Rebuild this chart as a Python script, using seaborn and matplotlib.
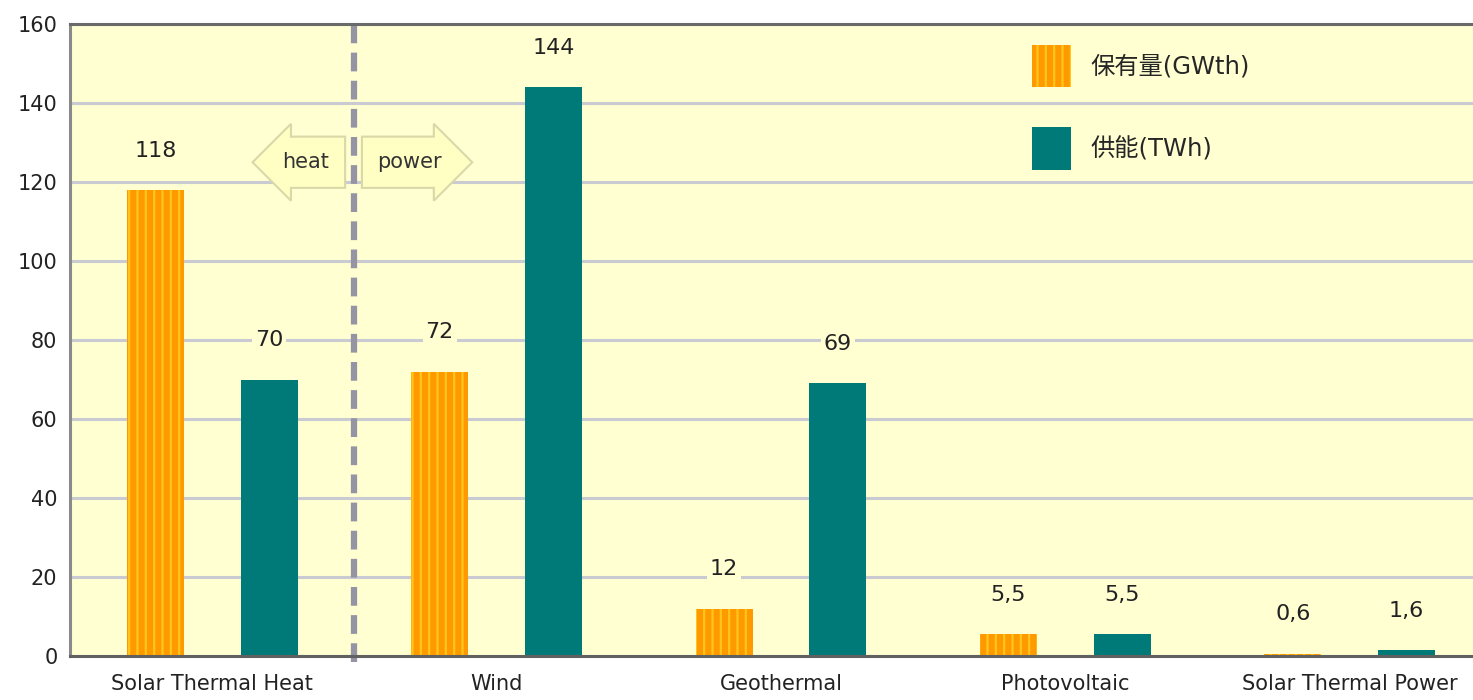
import pandas as pd
import matplotlib
matplotlib.use('Agg')
import matplotlib.pyplot as plt
import matplotlib.patches as mpatches
import seaborn as sns

categories = ['Solar Thermal Heat', 'Wind', 'Geothermal', 'Photovoltaic', 'Solar Thermal Power']
capacity_gwth = [118, 72, 12, 5.5, 0.6]
supply_twh = [70, 144, 69, 5.5, 1.6]
series_names = ['保有量(GWth)', '供能(TWh)']
value_labels_cap = ['118', '72', '12', '5,5', '0,6']
value_labels_sup = ['70', '144', '69', '5,5', '1,6']

orange = '#FF9900'
teal = '#007A78'
bg = '#FFFFD2'

df = pd.DataFrame({
    'category': categories * 2,
    'series': [series_names[0]] * len(categories) + [series_names[1]] * len(categories),
    'value': capacity_gwth + supply_twh,
})

sns.set_style('white')
plt.rcParams['font.family'] = ['DejaVu Sans', 'Noto Sans CJK SC']
plt.rcParams['hatch.linewidth'] = 1.6

fig = plt.figure(figsize=(14.73, 7.0), dpi=100)
ax = fig.add_axes([70 / 1473, 44 / 700, (1492 - 70) / 1473, 632 / 700])
ax.set_facecolor(bg)

sns.barplot(data=df, x='category', y='value', hue='series', order=categories,
            hue_order=series_names, palette=[orange, teal], width=0.8, gap=0.5,
            ax=ax, legend=False, saturation=1)

# hatch pattern on the orange bars
for bar in ax.containers[0]:
    bar.set_hatch('||')
    bar.set_edgecolor('#FFC61A')
    bar.set_linewidth(0)
for bar in ax.containers[1]:
    bar.set_linewidth(0)

ax.bar_label(ax.containers[0], labels=value_labels_cap, padding=21, fontsize=16,
             color='#222222', bbox=dict(facecolor=bg, edgecolor='none', pad=2))
ax.bar_label(ax.containers[1], labels=value_labels_sup, padding=21, fontsize=16,
             color='#222222', bbox=dict(facecolor=bg, edgecolor='none', pad=2))

ax.set_xlim(-0.5, 4.5)
ax.set_ylim(0, 160)
ax.set_yticks(range(0, 161, 20))
ax.yaxis.grid(True, color='#CACAD2', linewidth=2.2)
ax.set_axisbelow(True)
ax.set_xlabel('')
ax.set_ylabel('')

ax.set_xticks([0, 1, 2, 3, 4])
ax.set_xticklabels(categories, fontsize=15, color='#222222')
ax.set_xticks([0.5, 1.5, 2.5, 3.5], minor=True)
ax.tick_params(axis='x', which='major', length=0, pad=13)
ax.tick_params(axis='x', which='minor', length=7, width=2, color='#707070', direction='out')
ax.tick_params(axis='y', length=5, width=2, color='#808080', labelsize=15, pad=4)
for lab in ax.get_yticklabels():
    lab.set_color('#222222')

for side in ['left', 'bottom', 'top']:
    ax.spines[side].set_visible(True)
    ax.spines[side].set_linewidth(2.2)
ax.spines['left'].set_color('#8A8A8A')
ax.spines['bottom'].set_color('#606060')
ax.spines['top'].set_color('#6A6A6A')
ax.spines['right'].set_visible(False)

# heat / power divider
ax.axvline(0.5, ymin=-0.01, ymax=1, color='#9494A4', linewidth=4.5,
           linestyle=(0, (3, 1.5)), clip_on=False)

arrow_style = dict(facecolor='#FFFFC4', edgecolor='#D8D8A8', linewidth=1.5)
ax.text(0.33, 125, 'heat', fontsize=15, ha='center', va='center', color='#333333',
        bbox=dict(boxstyle='larrow,pad=0.75', **arrow_style))
ax.text(0.695, 125, 'power', fontsize=15, ha='center', va='center', color='#333333',
        bbox=dict(boxstyle='rarrow,pad=0.75', **arrow_style))

handles = [mpatches.Patch(facecolor=orange, edgecolor='#FFC61A', hatch='||', linewidth=0),
           mpatches.Patch(facecolor=teal, linewidth=0)]
fig.legend(handles, series_names, loc='upper left', bbox_to_anchor=(1032 / 1473, 1 - 45 / 700),
           frameon=False, fontsize=17.5, handlelength=1.6, handleheight=2.3,
           labelspacing=1.65, handletextpad=0.8, borderpad=0, borderaxespad=0)

fig.savefig('out.png', dpi=100, facecolor='white')
